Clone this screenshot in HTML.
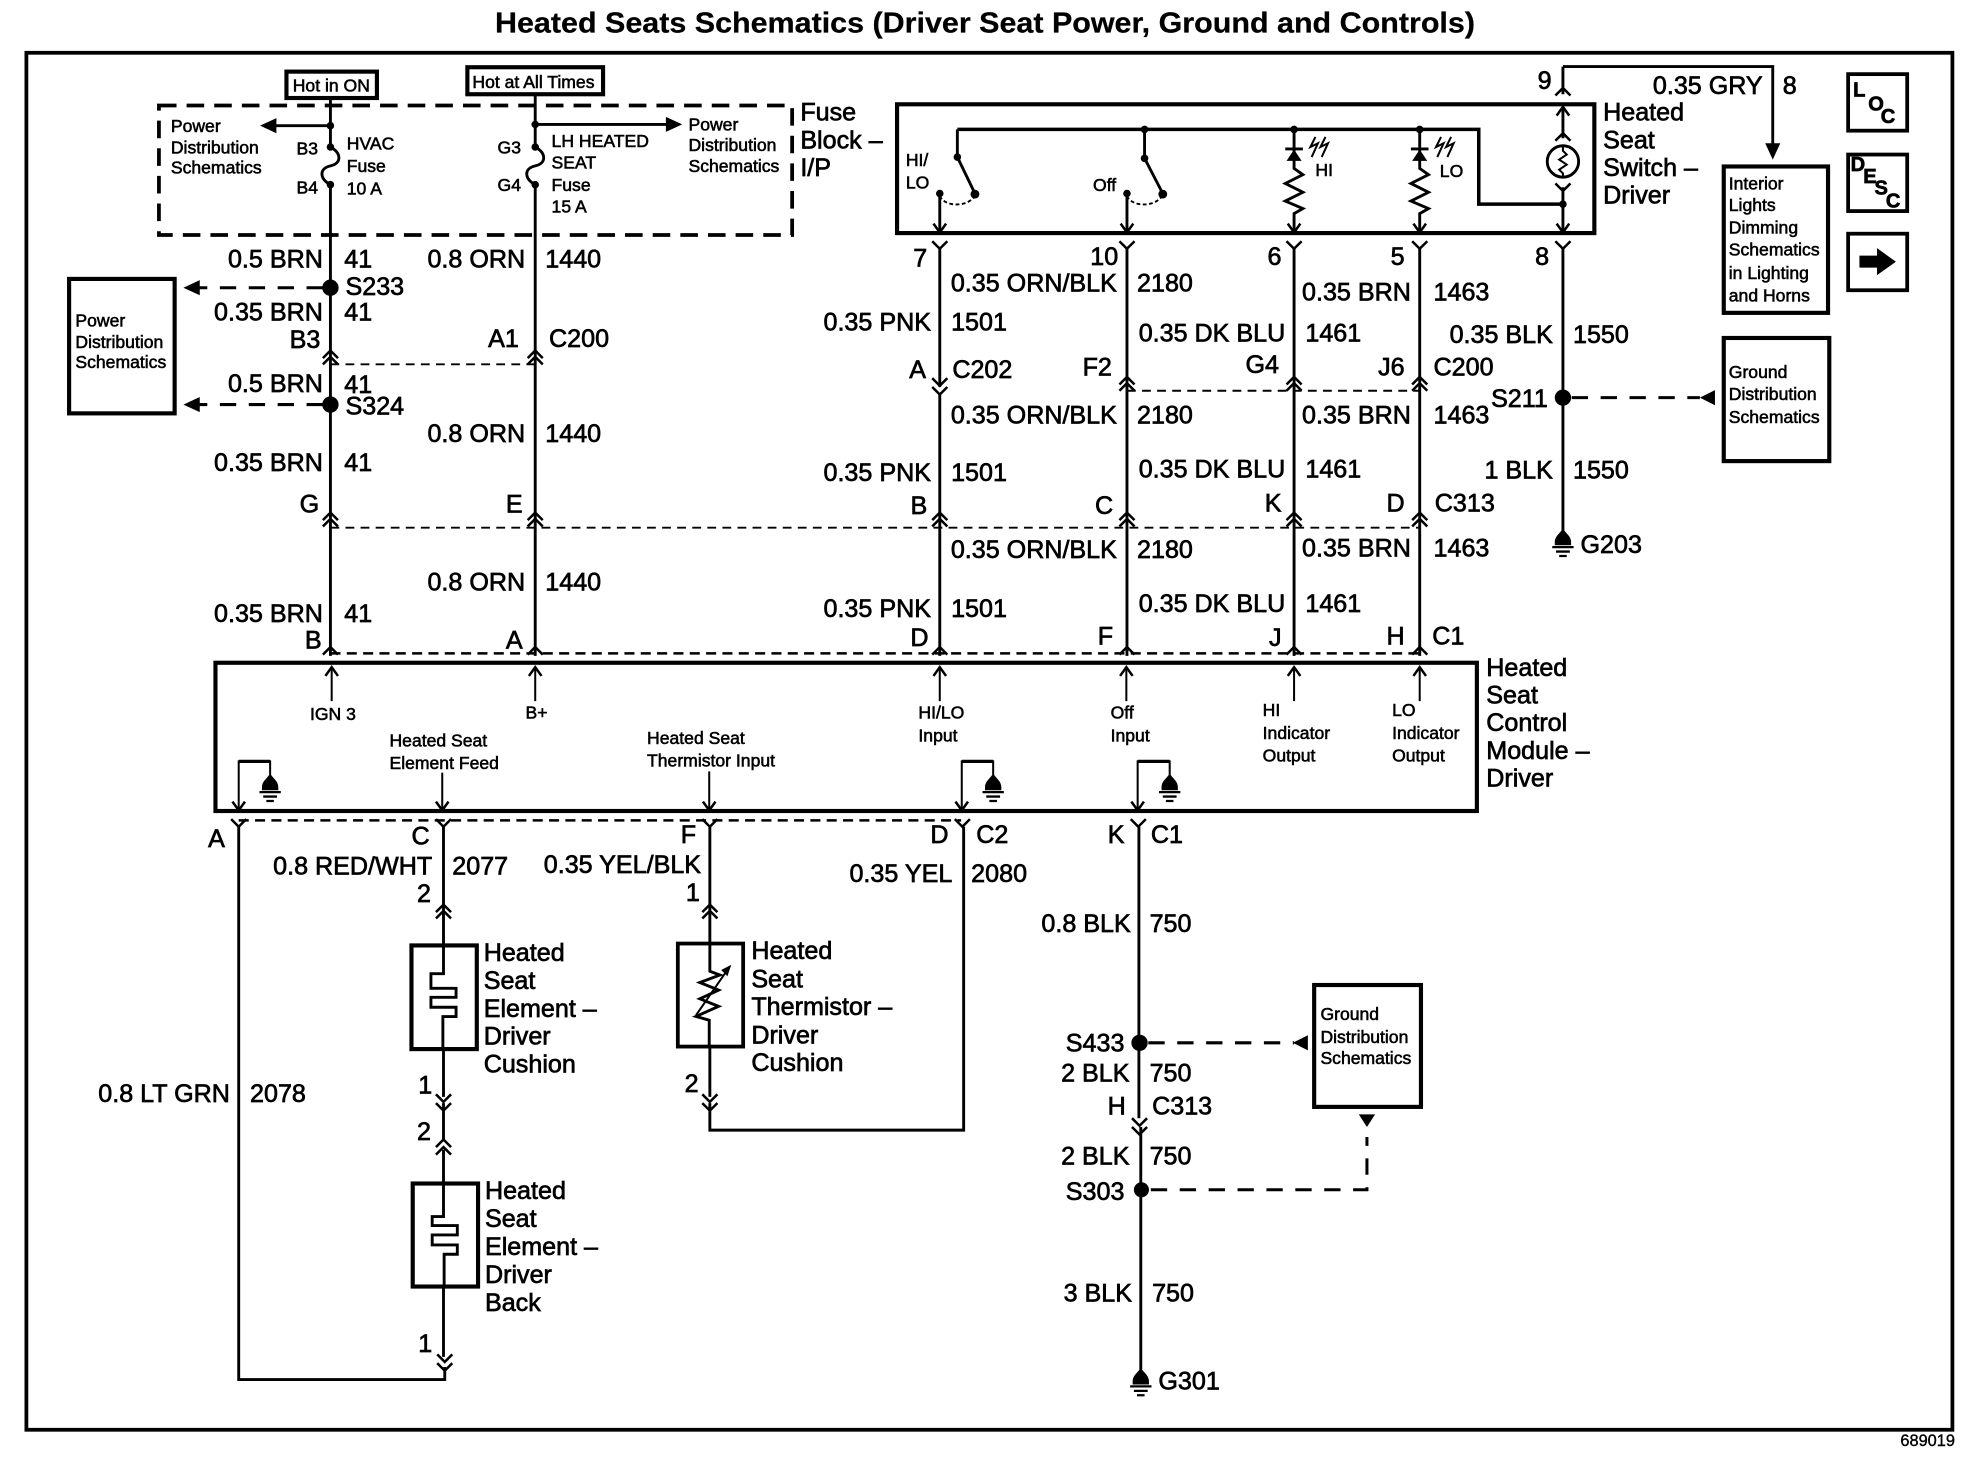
<!DOCTYPE html>
<html><head><meta charset="utf-8"><title>Heated Seats Schematics</title>
<style>
html,body{margin:0;padding:0;background:#fff}
svg{display:block}
text{font-family:"Liberation Sans",sans-serif;fill:#000;stroke:#000;stroke-width:.55}
.l{font-size:20px}
.s{font-size:14px;stroke-width:.45}
.e{text-anchor:end}
.m{text-anchor:middle}
.w{fill:none;stroke:#000;stroke-width:2.3}
.t{fill:none;stroke:#000;stroke-width:1.6}
.b{fill:none;stroke:#000;stroke-width:3.3}
.d{fill:none;stroke:#000;stroke-width:2;stroke-dasharray:8 5}
.dt{fill:none;stroke:#000;stroke-width:1.5;stroke-dasharray:7 5}
.ld{fill:none;stroke:#000;stroke-width:2.4;stroke-dasharray:13 10}
</style></head><body>
<svg xmlns="http://www.w3.org/2000/svg" width="1970" height="1472" viewBox="0 0 1568 1171.6">
<defs>
<path id="cu" d="M-6 6L0 0L6 6" fill="none" stroke="#000" stroke-width="2"/>
<path id="cd" d="M-6 0L0 6L6 0" fill="none" stroke="#000" stroke-width="2"/>
<path id="ca" d="M-5 7L0 0L5 7" fill="none" stroke="#000" stroke-width="2"/>
<path id="cv" d="M-5 -7L0 0L5 -7" fill="none" stroke="#000" stroke-width="2"/>
<g id="gnd"><path d="M-6.5 -2.5C-6.5 -7 -3 -9 -1 -12L1 -12C3 -9 6.5 -7 6.5 -2.5L6.5 0L-6.5 0Z" fill="#000"/><path d="M-8.5 1.5H8.5M-5.5 5H5.5M-3 8.5H3" fill="none" stroke="#000" stroke-width="1.8"/></g>
</defs>
<rect width="1568" height="1171.6" fill="#fff"/>

<!-- title + frame -->
<text x="394" y="26" font-size="23" font-weight="bold" textLength="780" lengthAdjust="spacingAndGlyphs" style="stroke-width:.2">Heated Seats Schematics (Driver Seat Power, Ground and Controls)</text>
<rect x="21" y="42" width="1533" height="1096" class="b" style="stroke-width:3"/>
<text x="1556" y="1151" font-size="13" class="e" style="stroke-width:.3">689019</text>

<!-- hot boxes -->
<rect x="228" y="57" width="72" height="21" class="b"/>
<text x="233" y="73" class="s">Hot in ON</text>
<rect x="372" y="53.5" width="108" height="21.5" class="b"/>
<text x="376" y="70" class="s">Hot at All Times</text>

<!-- fuse block -->
<rect x="126.500" y="84" width="504" height="103" class="b" style="stroke-width:3;stroke-dasharray:14 8"/>
<text class="l" x="637" y="96">Fuse</text><text class="l" x="637" y="118">Block –</text><text class="l" x="637" y="140">I/P</text>
<text class="s" x="136" y="105">Power</text><text class="s" x="136" y="122">Distribution</text><text class="s" x="136" y="138">Schematics</text>
<text class="s" x="236" y="123">B3</text><text class="s" x="236" y="154">B4</text>
<text class="s" x="276" y="119">HVAC</text><text class="s" x="276" y="137">Fuse</text><text class="s" x="276" y="155">10 A</text>
<text class="s" x="396" y="122">G3</text><text class="s" x="396" y="152">G4</text>
<text class="s" x="439" y="117">LH HEATED</text><text class="s" x="439" y="134">SEAT</text><text class="s" x="439" y="152">Fuse</text><text class="s" x="439" y="169">15 A</text>
<text class="s" x="548" y="104">Power</text><text class="s" x="548" y="120">Distribution</text><text class="s" x="548" y="137">Schematics</text>

<!-- wires 263 & 426 -->
<path class="w" d="M263 79V117C272 122 272 130 263 132C254 134 254 142 263 147V522"/>
<path class="w" d="M426 76V117C435 122 435 130 426 132C417 134 417 142 426 147V522"/>
<circle cx="263" cy="100" r="3"/><circle cx="263" cy="117" r="3"/><circle cx="263" cy="147" r="3"/>
<circle cx="426" cy="99" r="3"/><circle cx="426" cy="117" r="3"/><circle cx="426" cy="147" r="3"/>
<path class="w" d="M263 100H218"/><path d="M207 100L220 94V106Z"/>
<path class="w" d="M426 99H532"/><path d="M543 99L530 93V105Z"/>

<circle cx="263" cy="229" r="6.500"/><circle cx="263" cy="322" r="6.500"/>
<path class="ld" d="M257 229H158"/><path d="M146 229L159 223V235Z"/>
<path class="ld" d="M257 322H158"/><path d="M146 322L159 316V328Z"/>
<rect x="55" y="222" width="84" height="107" class="b"/>
<text class="s" x="60" y="260">Power</text><text class="s" x="60" y="277">Distribution</text><text class="s" x="60" y="293">Schematics</text>

<use href="#cu" x="263" y="279"/><use href="#cu" x="263" y="284"/><use href="#cu" x="426" y="279"/><use href="#cu" x="426" y="284"/>
<use href="#cu" x="263" y="408"/><use href="#cu" x="263" y="413"/><use href="#cu" x="426" y="408"/><use href="#cu" x="426" y="413"/>
<use href="#cu" x="263" y="515"/><use href="#cu" x="426" y="515"/>

<path class="dt" d="M263 290H426"/>
<path class="dt" d="M263 420H1130"/>
<path class="d" d="M263 520H1130"/>
<path class="dt" d="M897 311H1130"/>
<path class="d" d="M190 653H765"/>

<text class="l e" x="257" y="213">0.5 BRN</text><text class="l" x="274" y="213">41</text>
<text class="l" x="275" y="235">S233</text>
<text class="l e" x="257" y="255">0.35 BRN</text><text class="l" x="274" y="255">41</text>
<text class="l e" x="255" y="277">B3</text>
<text class="l e" x="257" y="312">0.5 BRN</text><text class="l" x="274" y="313">41</text>
<text class="l" x="275" y="330">S324</text>
<text class="l e" x="257" y="375">0.35 BRN</text><text class="l" x="274" y="375">41</text>
<text class="l e" x="254" y="408">G</text><text class="l e" x="416" y="408">E</text>
<text class="l e" x="257" y="495">0.35 BRN</text><text class="l" x="274" y="495">41</text>
<text class="l e" x="256" y="516">B</text><text class="l e" x="416" y="516">A</text>
<text class="l e" x="418" y="213">0.8 ORN</text><text class="l" x="434" y="213">1440</text>
<text class="l e" x="413" y="276">A1</text><text class="l" x="437" y="276">C200</text>
<text class="l e" x="418" y="352">0.8 ORN</text><text class="l" x="434" y="352">1440</text>
<text class="l e" x="418" y="470">0.8 ORN</text><text class="l" x="434" y="470">1440</text>

<!-- switch -->
<rect x="714" y="83" width="555" height="102.500" class="b"/>
<path class="b" style="stroke-width:2.8" d="M762 103H1177V162.500H1244"/>
<circle cx="911" cy="103" r="3"/><circle cx="1030" cy="103" r="3"/><circle cx="1130" cy="103" r="3"/>
<circle cx="1244" cy="162.500" r="3"/>
<path class="w" d="M762 103V125L776 154M911 103V126L925.500 154"/>
<circle cx="762" cy="125" r="3"/><circle cx="776" cy="154.500" r="3.500"/>
<circle cx="911" cy="126" r="3"/><circle cx="925.500" cy="154.500" r="3.500"/>
<circle cx="748" cy="154" r="3"/><circle cx="897" cy="154" r="3"/>
<path d="M748 156C752 165 770 165 776 156M897 156C901 165 919 165 925 156" fill="none" stroke="#000" stroke-width="1.500" stroke-dasharray="3 2"/>
<path class="w" d="M748 154V184M897 154V184M1030 103V134L1037 139L1023 146L1037 153L1023 160L1037 166L1030 170V184M1130 103V134L1137 139L1123 146L1137 153L1123 160L1137 166L1130 170V184"/>
<path d="M1030 119L1024 128H1036Z"/><path d="M1130 119L1124 128H1136Z"/>
<path class="w" d="M1023 118.500H1037M1123 118.500H1137"/>
<path class="t" d="M1047 109L1043 117L1049 114L1044 125M1055 109L1051 117L1057 114L1052 125M1147 109L1143 117L1149 114L1144 125M1155 109L1151 117L1157 114L1152 125"/>
<use href="#cv" x="748" y="185"/><use href="#cv" x="897" y="185"/><use href="#cv" x="1030" y="185"/><use href="#cv" x="1130" y="185"/><use href="#cv" x="1244" y="185"/>
<path class="w" d="M1244 53V75M1244 85V110M1244 149V184"/>
<use href="#cu" x="1244" y="70"/><use href="#ca" x="1244" y="85"/><use href="#cu" x="1244" y="106"/><use href="#cd" x="1244" y="146"/>
<circle cx="1244" cy="128.500" r="12.500" class="w"/>
<path class="t" d="M1244 116V120L1247 123L1241 127L1247 131L1241 135L1244 138V141"/>
<path class="w" d="M1244 53H1411V118"/><path d="M1411 127L1405 114H1417Z"/>
<text class="s" x="721" y="132">HI/</text><text class="s" x="721" y="150">LO</text>
<text class="s" x="870" y="152">Off</text><text class="s" x="1047" y="140">HI</text><text class="s" x="1146" y="141">LO</text>
<text class="l" x="1276" y="96">Heated</text><text class="l" x="1276" y="118">Seat</text><text class="l" x="1276" y="140">Switch –</text><text class="l" x="1276" y="162">Driver</text>
<text class="l e" x="1235" y="71">9</text><text class="l e" x="1403" y="75">0.35 GRY</text><text class="l" x="1419" y="75">8</text>

<!-- interior box -->
<rect x="1372" y="132.500" width="83" height="116.500" class="b"/>
<text class="s" x="1376" y="151">Interior</text><text class="s" x="1376" y="168">Lights</text><text class="s" x="1376" y="186">Dimming</text><text class="s" x="1376" y="203.500">Schematics</text><text class="s" x="1376" y="222">in Lighting</text><text class="s" x="1376" y="240">and Horns</text>

<!-- LOC / DESC / arrow -->
<rect x="1471" y="59" width="47" height="45" class="b" style="stroke-width:3"/>
<text x="1475" y="77" font-size="16" font-weight="bold">L</text><text x="1487" y="88" font-size="16" font-weight="bold">O</text><text x="1497" y="98" font-size="16" font-weight="bold">C</text>
<rect x="1471" y="123" width="47" height="45" class="b" style="stroke-width:3"/>
<text x="1473" y="136" font-size="16" font-weight="bold">D</text><text x="1483" y="145.500" font-size="16" font-weight="bold">E</text><text x="1492" y="155" font-size="16" font-weight="bold">S</text><text x="1501" y="165" font-size="16" font-weight="bold">C</text>
<rect x="1471" y="186" width="47" height="45" class="b" style="stroke-width:3"/>
<path d="M1480 203.500H1494V197.500L1509 208.300L1494 219V213H1480Z"/>

<!-- right columns -->
<path class="w" d="M748 197V308M748 314V522M897 197V522M1030 197V522M1130 197V522M1244 197V425"/>
<use href="#cd" x="748" y="192"/><use href="#cd" x="897" y="192"/><use href="#cd" x="1030" y="192"/><use href="#cd" x="1130" y="192"/><use href="#cd" x="1244" y="192"/>
<use href="#cd" x="748" y="301"/><use href="#cd" x="748" y="308"/>
<use href="#cu" x="897" y="300"/><use href="#cu" x="897" y="305"/><use href="#cu" x="1030" y="300"/><use href="#cu" x="1030" y="305"/><use href="#cu" x="1130" y="300"/><use href="#cu" x="1130" y="305"/>
<use href="#cu" x="748" y="408"/><use href="#cu" x="748" y="413"/><use href="#cu" x="897" y="408"/><use href="#cu" x="897" y="413"/><use href="#cu" x="1030" y="408"/><use href="#cu" x="1030" y="413"/><use href="#cu" x="1130" y="408"/><use href="#cu" x="1130" y="413"/>
<use href="#cu" x="748" y="515"/><use href="#cu" x="897" y="515"/><use href="#cu" x="1030" y="515"/><use href="#cu" x="1130" y="515"/>

<text class="l e" x="738" y="212">7</text><text class="l e" x="890" y="211">10</text><text class="l e" x="1020" y="211">6</text><text class="l e" x="1118" y="211">5</text><text class="l e" x="1233" y="211">8</text>
<text class="l e" x="889" y="232">0.35 ORN/BLK</text><text class="l" x="905" y="232">2180</text>
<text class="l e" x="1123" y="239">0.35 BRN</text><text class="l" x="1141" y="239">1463</text>
<text class="l e" x="741" y="263">0.35 PNK</text><text class="l" x="757" y="263">1501</text>
<text class="l e" x="1023" y="272">0.35 DK BLU</text><text class="l" x="1039" y="272">1461</text>
<text class="l e" x="1236" y="273">0.35 BLK</text><text class="l" x="1252" y="273">1550</text>
<text class="l e" x="737" y="301">A</text><text class="l" x="758" y="301">C202</text>
<text class="l e" x="885" y="299">F2</text><text class="l e" x="1018" y="297">G4</text><text class="l e" x="1118" y="299">J6</text><text class="l" x="1141" y="299">C200</text>
<text class="l e" x="1232" y="324">S211</text>
<text class="l e" x="889" y="337">0.35 ORN/BLK</text><text class="l" x="905" y="337">2180</text>
<text class="l e" x="1123" y="337">0.35 BRN</text><text class="l" x="1141" y="337">1463</text>
<text class="l e" x="741" y="383">0.35 PNK</text><text class="l" x="757" y="383">1501</text>
<text class="l e" x="1023" y="380">0.35 DK BLU</text><text class="l" x="1039" y="380">1461</text>
<text class="l e" x="1236" y="381">1 BLK</text><text class="l" x="1252" y="381">1550</text>
<text class="l e" x="738" y="409">B</text><text class="l e" x="886" y="409">C</text><text class="l e" x="1020" y="407">K</text><text class="l e" x="1118" y="407">D</text><text class="l" x="1142" y="407">C313</text>
<text class="l e" x="889" y="444">0.35 ORN/BLK</text><text class="l" x="905" y="444">2180</text>
<text class="l e" x="1123" y="443">0.35 BRN</text><text class="l" x="1141" y="443">1463</text>
<text class="l e" x="741" y="491">0.35 PNK</text><text class="l" x="757" y="491">1501</text>
<text class="l e" x="1023" y="487">0.35 DK BLU</text><text class="l" x="1039" y="487">1461</text>
<text class="l e" x="739" y="514">D</text><text class="l e" x="886" y="513">F</text><text class="l e" x="1020" y="514">J</text><text class="l e" x="1118" y="513">H</text><text class="l" x="1140" y="513">C1</text>

<circle cx="1244" cy="316.500" r="6.500"/>
<path class="ld" d="M1251 316.500H1353"/><path d="M1353 316.500L1365 310.500V322.500Z"/>
<rect x="1372" y="269" width="84" height="98" class="b"/>
<text class="s" x="1376" y="301">Ground</text><text class="s" x="1376" y="318.500">Distribution</text><text class="s" x="1376" y="336.500">Schematics</text>
<use href="#gnd" x="1244" y="434"/><text class="l" x="1258" y="440">G203</text>

<!-- module -->
<rect x="171.500" y="527.500" width="1004" height="118" class="b"/>
<text class="l" x="1183" y="538">Heated</text><text class="l" x="1183" y="560">Seat</text><text class="l" x="1183" y="582">Control</text><text class="l" x="1183" y="604">Module –</text><text class="l" x="1183" y="626">Driver</text>
<path class="t" d="M264 531V558M426 531V558M748 531V558M896.500 531V558M1030 531V558M1130 531V558"/>
<use href="#ca" x="264" y="531"/><use href="#ca" x="426" y="531"/><use href="#ca" x="748" y="531"/><use href="#ca" x="896.500" y="531"/><use href="#ca" x="1030" y="531"/><use href="#ca" x="1130" y="531"/>
<text class="s m" x="265" y="573">IGN 3</text><text class="s m" x="427" y="572">B+</text>
<text class="s" x="310" y="594">Heated Seat</text><text class="s" x="310" y="612">Element Feed</text>
<text class="s" x="515" y="592">Heated Seat</text><text class="s" x="515" y="610">Thermistor Input</text>
<text class="s" x="731" y="572">HI/LO</text><text class="s" x="731" y="590">Input</text>
<text class="s" x="884" y="572">Off</text><text class="s" x="884" y="590">Input</text>
<text class="s" x="1005" y="570">HI</text><text class="s" x="1005" y="588">Indicator</text><text class="s" x="1005" y="606">Output</text>
<text class="s" x="1108" y="570">LO</text><text class="s" x="1108" y="588">Indicator</text><text class="s" x="1108" y="606">Output</text>
<path class="t" d="M352 615V644M564.500 614V644"/><use href="#cv" x="352" y="645"/><use href="#cv" x="564.500" y="645"/>
<path class="t" d="M190 644V606H215V620M765.500 644V606H790.500V620M905.500 644V606H931V620"/>
<path d="M190 606H215M765.500 606H790.500M905.500 606H931" stroke="#000" stroke-width="2.500"/>
<use href="#cv" x="190" y="645"/><use href="#cv" x="765.500" y="645"/><use href="#cv" x="905.500" y="645"/>
<use href="#gnd" x="215" y="629"/><use href="#gnd" x="790.500" y="629"/><use href="#gnd" x="931" y="629"/>

<!-- lower wires -->
<path class="w" d="M190 658V1098H354V1088M353 658V873M353 878V908M353 915V1080M565 658V873M565 878V899.500H767V658M906.500 658V890M908 897V1090"/>
<use href="#cd" x="190" y="652"/><use href="#cd" x="353" y="652"/><use href="#cd" x="565" y="652"/><use href="#cd" x="766" y="652"/><use href="#cd" x="906" y="652"/>
<use href="#cu" x="353" y="720"/><use href="#cu" x="353" y="725"/><use href="#cu" x="565" y="720"/><use href="#cu" x="565" y="725"/>
<use href="#cd" x="353" y="871"/><use href="#cd" x="353" y="878"/><use href="#cu" x="353" y="907"/><use href="#cu" x="353" y="913"/>
<use href="#cd" x="354" y="1078"/><use href="#cd" x="354" y="1085"/>
<use href="#cd" x="565" y="871"/><use href="#cd" x="565" y="878"/>
<use href="#cd" x="907" y="890"/><use href="#cd" x="907" y="897"/>

<text class="l e" x="179" y="674">A</text><text class="l e" x="342" y="672">C</text><text class="l e" x="554" y="671">F</text><text class="l e" x="755" y="671">D</text><text class="l" x="777" y="671">C2</text><text class="l e" x="895" y="671">K</text><text class="l" x="916" y="671">C1</text>
<text class="l e" x="344" y="696">0.8 RED/WHT</text><text class="l" x="360" y="696">2077</text>
<text class="l e" x="558" y="695">0.35 YEL/BLK</text>
<text class="l e" x="758" y="702">0.35 YEL</text><text class="l" x="773" y="702">2080</text>
<text class="l e" x="343" y="718">2</text><text class="l e" x="557" y="717">1</text>
<text class="l e" x="183" y="877">0.8 LT GRN</text><text class="l" x="199" y="877">2078</text>

<!-- elements -->
<rect x="327.500" y="752.500" width="52" height="82.500" fill="#fff" stroke="#000" stroke-width="3.300"/>
<path class="w" d="M353 752V775H343V786.600H363V793.800H343V801.700H363V809.100H352.500V835"/>
<rect x="328.500" y="942" width="52" height="82" fill="#fff" stroke="#000" stroke-width="3.300"/>
<path class="w" d="M353 942V968.300H344V975.500H364V982.900H344V990.900H364V998.300H353.500V1024"/>
<text class="l" x="385" y="765">Heated</text><text class="l" x="385" y="787">Seat</text><text class="l" x="385" y="809.500">Element –</text><text class="l" x="385" y="831.500">Driver</text><text class="l" x="385" y="853.500">Cushion</text>
<text class="l" x="386" y="954.500">Heated</text><text class="l" x="386" y="976.500">Seat</text><text class="l" x="386" y="999">Element –</text><text class="l" x="386" y="1021">Driver</text><text class="l" x="386" y="1043.500">Back</text>
<text class="l e" x="344" y="870.500">1</text><text class="l e" x="343" y="907.500">2</text><text class="l e" x="344" y="1076">1</text>

<rect x="539.500" y="751" width="52" height="82" fill="#fff" stroke="#000" stroke-width="3"/>
<path class="w" d="M565 751V773L573 776L557 782L572 788L557 795L572 801L554 809L564.500 812V833"/>
<path class="t" d="M554 808L581 769"/><path d="M582 768L574 772L579 777Z"/>
<text class="l" x="598" y="763.500">Heated</text><text class="l" x="598" y="786">Seat</text><text class="l" x="598" y="808">Thermistor –</text><text class="l" x="598" y="830.500">Driver</text><text class="l" x="598" y="852.500">Cushion</text>
<text class="l e" x="556" y="869">2</text>

<!-- lower right -->
<circle cx="907" cy="830" r="6.500"/><circle cx="908.500" cy="947" r="6"/>
<path class="ld" d="M914 830H1030"/><path d="M1029 830L1041 824V836Z"/>
<path class="ld" d="M916 947H1088V905"/><path d="M1088 897L1081.500 887H1094.500Z"/>
<rect x="1046" y="784" width="85" height="97" class="b"/>
<text class="s" x="1051" y="812">Ground</text><text class="s" x="1051" y="830">Distribution</text><text class="s" x="1051" y="847">Schematics</text>
<text class="l e" x="895" y="837">S433</text><text class="l e" x="899" y="861">2 BLK</text><text class="l" x="915" y="861">750</text>
<text class="l e" x="896" y="887">H</text><text class="l" x="917" y="887">C313</text>
<text class="l e" x="899" y="927">2 BLK</text><text class="l" x="915" y="927">750</text>
<text class="l e" x="895" y="955">S303</text>
<text class="l e" x="901" y="1036">3 BLK</text><text class="l" x="917" y="1036">750</text>
<text class="l e" x="900" y="742">0.8 BLK</text><text class="l" x="915" y="742">750</text>
<use href="#gnd" x="908" y="1102"/><text class="l" x="922" y="1106">G301</text>
</svg>
</body></html>
